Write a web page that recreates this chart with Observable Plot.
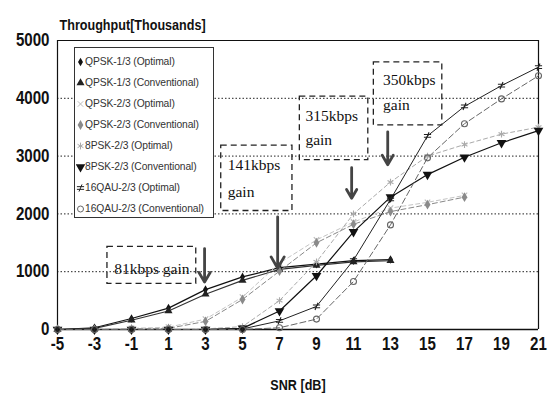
<!DOCTYPE html>
<html><head><meta charset="utf-8">
<script src="https://cdn.jsdelivr.net/npm/d3@7"></script>
<script src="https://cdn.jsdelivr.net/npm/@observablehq/plot@0.6"></script>
<style>
body{margin:0;background:#fff;}
#wrap{position:relative;width:550px;height:399px;}
#legend{position:absolute;left:74px;top:47px;width:140px;height:171px;border:1px solid #333;background:#fff;box-sizing:border-box;padding-top:3px;font-family:"Liberation Sans",Arial,sans-serif;font-size:10.3px;color:#333;}
.row{height:21px;display:flex;align-items:center;white-space:nowrap;letter-spacing:-0.1px;}
.row svg{width:9px;height:12px;margin-left:1px;flex:none;}
</style></head><body><div id="wrap"></div>
<script>
const snr = [-5,-3,-1,1,3,5,7,9,11,13,15,17,19,21];
const xTicks = [-5,-3,-1,1,3,5,7,9,11,13,15,17,19,21];
const yTicks = [0,1000,2000,3000,4000,5000];
const gridValues = [1000,2000,3000,4000];
const seriesNames = ["QPSK-1/3 (Optimal)","QPSK-1/3 (Conventional)","QPSK-2/3 (Optimal)","QPSK-2/3 (Conventional)","8PSK-2/3 (Optimal)","8PSK-2/3 (Conventional)","16QAM-2/3 (Optimal)","16QAM-2/3 (Conventional)"];
const legendLabels = ["QPSK-1/3 (Optimal)","QPSK-1/3 (Conventional)","QPSK-2/3 (Optimal)","QPSK-2/3 (Conventional)","8PSK-2/3 (Optimal)","8PSK-2/3 (Conventional)","16QAU-2/3 (Optimal)","16QAU-2/3 (Conventional)"];
const qpsk13Opt  = [0,30,190,370,690,910,1070,1130,1190,1210];
const qpsk13Conv = [0,20,160,320,610,850,1040,1110,1170,1190];
const qpsk23Opt  = [0,0,20,40,180,560,1150,1550,1860,2100,2200,2320];
const qpsk23Conv = [0,0,10,20,140,520,1010,1500,1820,2040,2160,2290];
const psk8Opt    = [0,0,0,0,10,50,500,1170,2000,2550,3000,3200,3380,3500];
const psk8Conv   = [0,0,0,0,0,20,320,930,1690,2290,2680,2980,3230,3440];
const qam16Opt   = [0,0,0,0,0,10,150,400,1200,2250,3350,3860,4220,4540];
const qam16Conv  = [0,0,0,0,0,0,30,180,830,1810,2970,3560,3990,4390];
const allSeries = [qpsk13Opt,qpsk13Conv,qpsk23Opt,qpsk23Conv,psk8Opt,psk8Conv,qam16Opt,qam16Conv];

const annoBoxes = [
  {x1:-2.3,x2:2.5,y1:790,y2:1430},
  {x1:3.85,x2:7.7,y1:2050,y2:3180},
  {x1:8.1,x2:11.8,y1:2930,y2:4030},
  {x1:12.1,x2:15.8,y1:3530,y2:4620}
];
const annoCenterTexts = [{x:0.1,y:1050,t:"81kbps gain"}];
const annoStartTexts = [
  {x:4.2,y:2840,t:"141kbps"},
  {x:4.2,y:2370,t:"gain"},
  {x:8.4,y:3700,t:"315kbps"},
  {x:8.4,y:3270,t:"gain"},
  {x:12.6,y:4310,t:"350kbps"},
  {x:12.6,y:3875,t:"gain"}
];
const annoArrows = [
  {x:2.95,y1:1400,y2:820},
  {x:6.9,y1:1950,y2:1060},
  {x:10.9,y1:2800,y2:2270},
  {x:12.85,y1:3420,y2:2850}
];
const title = "Throughput[Thousands]";
const xLabel = "SNR [dB]";

const neqSymbol = {draw(ctx,size){const r=Math.sqrt(size/Math.PI);
  ctx.moveTo(-r*1.2,-r*0.45); ctx.lineTo(r*1.2,-r*0.45);
  ctx.moveTo(-r*1.2,r*0.45); ctx.lineTo(r*1.2,r*0.45);
  ctx.moveTo(-r*0.5,r*1.2); ctx.lineTo(r*0.5,-r*1.2);}};

const styles = [
  {stroke:"#111",dash:null,sw:1.2,symbol:"diamond",fill:"#111",dstroke:"none",r:2.6,rot:0},
  {stroke:"#333",dash:null,sw:1.1,symbol:"triangle",fill:"#222",dstroke:"none",r:3,rot:0},
  {stroke:"#c4c4c4",dash:"4,3",sw:1,symbol:"times",fill:"none",dstroke:"#bbb",r:2.6,rot:0},
  {stroke:"#888",dash:"5,3",sw:1,symbol:"diamond",fill:"#8a8a8a",dstroke:"none",r:3,rot:0},
  {stroke:"#aaa",dash:"4,3",sw:1,symbol:"asterisk",fill:"none",dstroke:"#aaa",r:3.2,rot:0},
  {stroke:"#111",dash:null,sw:1.2,symbol:"triangle",fill:"#111",dstroke:"none",r:3.6,rot:180},
  {stroke:"#222",dash:null,sw:1,symbol:neqSymbol,fill:"none",dstroke:"#222",r:3,rot:0},
  {stroke:"#666",dash:"6,3",sw:1,symbol:"circle",fill:"none",dstroke:"#666",r:3,rot:0}
];

const rows = [];
allSeries.forEach((vals,i)=>vals.forEach((v,j)=>rows.push({series:seriesNames[i],idx:i,x:snr[j],y:v})));

const marks = [
  Plot.ruleY(gridValues,{stroke:"#222",strokeWidth:1,strokeDasharray:"1.5,2"}),
  Plot.ruleX([-5],{stroke:"#111",strokeWidth:1.2}),
  Plot.ruleX([21],{stroke:"#111",strokeWidth:1.2}),
  Plot.ruleY([5000],{stroke:"#111",strokeWidth:1}),
  Plot.ruleY([0],{stroke:"#111",strokeWidth:1.6})
];
styles.forEach((s,i)=>{
  const d = rows.filter(r=>r.idx===i);
  marks.push(Plot.line(d,{x:"x",y:"y",stroke:s.stroke,strokeWidth:s.sw,strokeDasharray:s.dash}));
});
styles.forEach((s,i)=>{
  const d = rows.filter(r=>r.idx===i);
  marks.push(Plot.dot(d,{x:"x",y:"y",symbol:s.symbol,r:s.r,fill:s.fill,stroke:s.dstroke,strokeWidth:1.1,rotate:s.rot}));
});
const serif = "Liberation Serif, Times New Roman, serif";
marks.push(
  Plot.rect(annoBoxes,{x1:"x1",x2:"x2",y1:"y1",y2:"y2",fill:"none",stroke:"#222",strokeWidth:1.3,strokeDasharray:"6,4"}),
  Plot.text(annoCenterTexts,{x:"x",y:"y",text:"t",textAnchor:"middle",fontFamily:serif,fontSize:15.5,fill:"#111"}),
  Plot.text(annoStartTexts,{x:"x",y:"y",text:"t",textAnchor:"start",fontFamily:serif,fontSize:15.5,fill:"#111"}),
  Plot.arrow(annoArrows,{x:"x",y1:"y1",y2:"y2",stroke:"#444",strokeWidth:2.8,headLength:7}),
  Plot.axisX({ticks:xTicks,tickSize:0,tickPadding:8,tickFormat:d=>String(d),label:null,fontSize:18,fontWeight:"bold",fill:"#111"}),
  Plot.axisY({ticks:yTicks,tickSize:0,tickPadding:8,tickFormat:d=>String(d),label:null,fontSize:18,fontWeight:"bold",fill:"#111"}),
  Plot.text([title],{frameAnchor:"top-left",dx:2,dy:-21,text:d=>d,textAnchor:"start",fontSize:15,fontWeight:"bold",fill:"#111"}),
  Plot.text([xLabel],{frameAnchor:"bottom",dy:60,text:d=>d,fontSize:15,fontWeight:"bold",fill:"#111"})
);

const chart = Plot.plot({
  width:550,height:399,marginTop:40,marginBottom:70,marginLeft:57,marginRight:12,
  x:{domain:[-5,21]},
  y:{domain:[0,5000]},
  style:{fontFamily:"'Liberation Sans','Arial',sans-serif",background:"#fff",overflow:"visible"},
  marks
});
// condense the bold labels (narrow font look), scaling about each text's own anchor
const condenseSet = new Set([title, xLabel, ...xTicks.map(String), ...yTicks.map(String)]);
const num = v => { const n = parseFloat(v); return (v && !/em/.test(v) && isFinite(n)) ? n : 0; };
chart.querySelectorAll("text").forEach(t=>{
  if (!condenseSet.has(t.textContent)) return;
  const x = num(t.getAttribute("x")), y = num(t.getAttribute("y"));
  const tr = t.getAttribute("transform") || "";
  t.setAttribute("transform", `${tr} translate(${x},${y}) scale(0.84,1) translate(${-x},${-y})`.trim());
});
const wrap = document.getElementById("wrap");
wrap.appendChild(chart);

// legend
const leg = document.createElement("div");
leg.id = "legend";
const symMap = {diamond:d3.symbolDiamond,triangle:d3.symbolTriangle,times:d3.symbolTimes,asterisk:d3.symbolAsterisk,circle:d3.symbolCircle};
legendLabels.forEach((lab,i)=>{
  const s = styles[i];
  const row = document.createElement("div");
  row.className = "row";
  const symObj = typeof s.symbol === "string" ? symMap[s.symbol] : s.symbol;
  const p = d3.symbol(symObj, Math.PI*s.r*s.r)();
  const sym = `<path d="${p}" transform="translate(4.5,6) rotate(${s.rot})" fill="${s.fill}" stroke="${s.dstroke}"/>`;
  row.innerHTML = `<svg viewBox="0 0 9 12">${sym}</svg><span>${lab}</span>`;
  leg.appendChild(row);
});
wrap.appendChild(leg);
</script>
</body></html>
